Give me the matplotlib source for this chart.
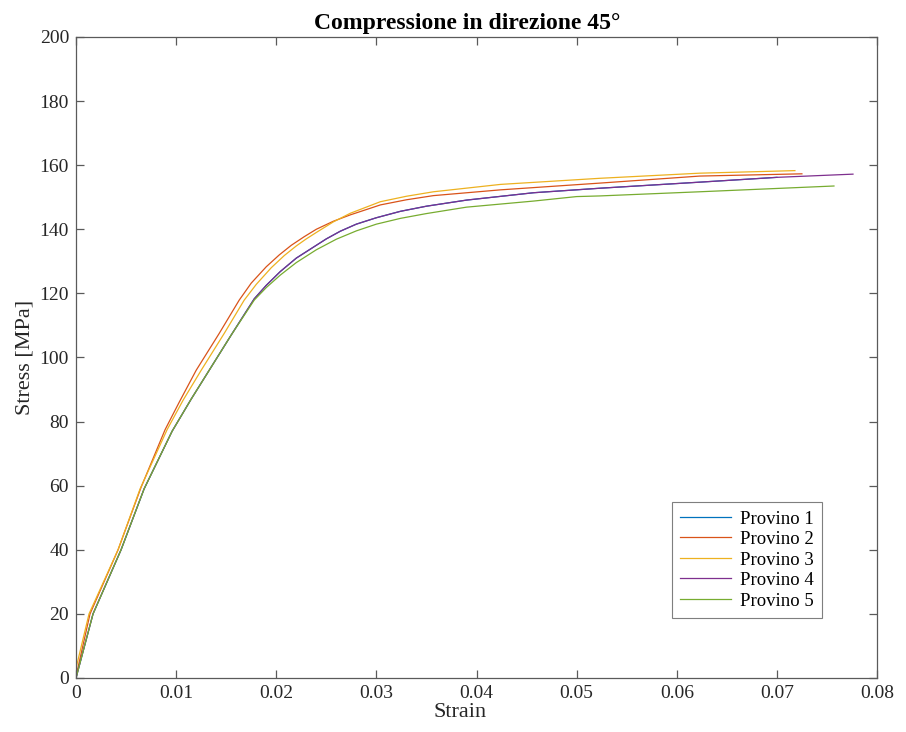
import matplotlib
matplotlib.use("Agg")
import matplotlib.pyplot as plt

# Compression stress-strain curves, 45 degree direction
strain_1 = [0, 0.0017, 0.0045, 0.0068, 0.0096, 0.0115, 0.0133, 0.0155, 0.0178, 0.0190, 0.0204, 0.0220, 0.0235, 0.0250, 0.0264, 0.0280, 0.0300, 0.0324, 0.0350, 0.0390, 0.0457, 0.0523, 0.0623, 0.0700]
stress_1 = [0, 20, 40, 59, 77, 87, 96, 107, 118.3, 122.5, 126.8, 131, 134, 137, 139.4, 141.6, 143.6, 145.6, 147.2, 149.1, 151.4, 152.8, 154.7, 156.2]

strain_2 = [0, 0.0014, 0.0028, 0.0042, 0.0065, 0.0089, 0.0103, 0.0120, 0.0143, 0.0163, 0.0175, 0.0190, 0.0203, 0.0215, 0.0228, 0.0240, 0.0257, 0.0274, 0.0304, 0.0330, 0.0357, 0.0424, 0.0523, 0.0623, 0.0725]
stress_2 = [0.5, 20, 30, 40, 59.5, 77.5, 86, 96, 107.5, 117.9, 123.2, 128.3, 132, 135, 137.7, 140, 142.5, 144.5, 147.6, 149.2, 150.5, 152.3, 154.4, 156.6, 157.3]

strain_3 = [0, 0.0013, 0.0042, 0.0064, 0.0091, 0.0107, 0.0125, 0.0148, 0.0168, 0.0180, 0.0195, 0.0208, 0.0220, 0.0230, 0.0240, 0.0257, 0.0274, 0.0304, 0.0330, 0.0357, 0.0424, 0.0523, 0.0623, 0.0718]
stress_3 = [3, 20, 40, 59, 77.5, 86.7, 96, 107.5, 117.9, 122.8, 128, 131.8, 134.8, 137, 139, 142.3, 145, 148.6, 150.3, 151.7, 154.0, 155.9, 157.5, 158.3]

strain_4 = [0, 0.0017, 0.0045, 0.0068, 0.0096, 0.0115, 0.0133, 0.0155, 0.0178, 0.0190, 0.0204, 0.0220, 0.0235, 0.0250, 0.0264, 0.0280, 0.0300, 0.0324, 0.0350, 0.0390, 0.0457, 0.0523, 0.0623, 0.0700, 0.0776]
stress_4 = [0, 20, 40, 59, 77, 87, 96, 107, 118.3, 122.5, 126.8, 131, 134, 137, 139.4, 141.6, 143.6, 145.6, 147.2, 149.1, 151.4, 152.8, 154.7, 156.2, 157.2]

strain_5 = [0, 0.0017, 0.0045, 0.0068, 0.0096, 0.0115, 0.0133, 0.0155, 0.0178, 0.0190, 0.0204, 0.0220, 0.0240, 0.0260, 0.0280, 0.0300, 0.0324, 0.0350, 0.0390, 0.0457, 0.0500, 0.0523, 0.0623, 0.0757]
stress_5 = [0, 20, 40, 59, 77, 87, 96, 107, 117.9, 121.8, 125.7, 129.6, 133.6, 136.9, 139.5, 141.6, 143.4, 144.9, 146.9, 148.8, 150.2, 150.4, 151.7, 153.5]

labels = ["Provino 1", "Provino 2", "Provino 3", "Provino 4", "Provino 5"]
colors = ["#0072BD", "#D95319", "#EDB120", "#7E2F8E", "#77AC30"]

x_ticks = [0, 0.01, 0.02, 0.03, 0.04, 0.05, 0.06, 0.07, 0.08]
x_ticklabels = ["0", "0.01", "0.02", "0.03", "0.04", "0.05", "0.06", "0.07", "0.08"]
y_ticks = list(range(0, 201, 20))

plt.rcParams["font.family"] = ["Liberation Serif", "DejaVu Serif"]

fig = plt.figure(figsize=(9.06, 7.32), dpi=100)
ax = fig.add_axes([0.0839, 0.0738, 0.8841, 0.8757])

series = [(strain_1, stress_1), (strain_2, stress_2), (strain_3, stress_3),
          (strain_4, stress_4), (strain_5, stress_5)]
for (sx, sy), lab, col in zip(series, labels, colors):
    ax.plot(sx, sy, color=col, lw=0.9, label=lab)

ax.set_xlim(0, 0.08)
ax.set_ylim(0, 200)
ax.set_xticks(x_ticks)
ax.set_xticklabels(x_ticklabels)
ax.set_yticks(y_ticks)

edge = "#5a5a5a"
text_col = "#262626"
for sp in ax.spines.values():
    sp.set_color(edge)
    sp.set_linewidth(0.9)
ax.tick_params(direction="in", top=True, right=True, length=6, width=0.9,
               color=edge, labelcolor=text_col, labelsize=14, pad=5)

ax.set_xlabel("Strain", fontsize=16, color=text_col, labelpad=1)
ax.xaxis.label.set_x(0.48)
ax.set_ylabel("Stress [MPa]", fontsize=16, color=text_col, labelpad=4)
ax.set_title("Compressione in direzione 45°", fontsize=17, fontweight="bold",
             color="black", pad=6, x=0.488)

leg = ax.legend(loc="lower right", bbox_to_anchor=(0.931, 0.0936), fontsize=13.5,
                fancybox=False, framealpha=1, edgecolor="#7f7f7f",
                handlelength=2.7, handletextpad=0.45, borderpad=0.45,
                labelspacing=0.18, borderaxespad=0)
leg.get_frame().set_linewidth(0.8)

fig.savefig("out.png", dpi=100)
